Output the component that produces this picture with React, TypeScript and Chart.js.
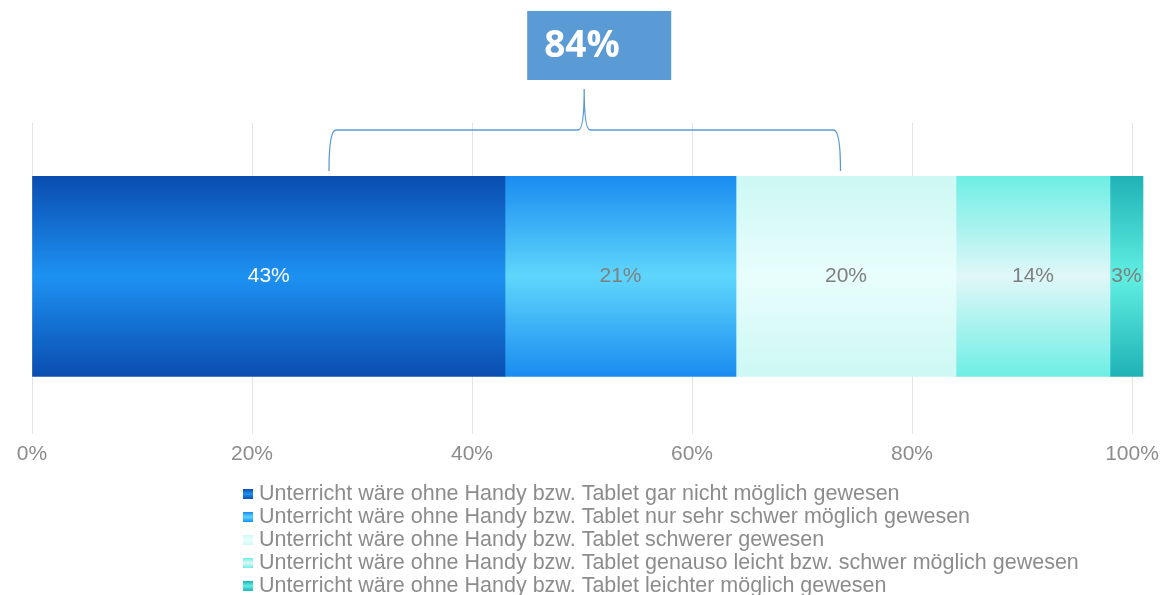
import React, { useEffect, useRef } from "react";
import { Chart, registerables } from "chart.js";

Chart.register(...registerables);

const categories = ["Unterricht"];
const seriesLabels = [
  "Unterricht wäre ohne Handy bzw. Tablet gar nicht möglich gewesen",
  "Unterricht wäre ohne Handy bzw. Tablet nur sehr schwer möglich gewesen",
  "Unterricht wäre ohne Handy bzw. Tablet schwerer gewesen",
  "Unterricht wäre ohne Handy bzw. Tablet genauso leicht bzw. schwer möglich gewesen",
  "Unterricht wäre ohne Handy bzw. Tablet leichter möglich gewesen",
];
const seriesValues = [43, 21, 20, 14, 3];
const xTicks = [0, 20, 40, 60, 80, 100];
const bracketFrom = 27;
const bracketTo = 73.5;
const bracketPeak = 50.2;
const bracketLabel = "84%";

const edgeColors = ["#0a4db0", "#1a8cf0", "#cdf8f3", "#6eeee4", "#1fb2b6"];
const centerColors = ["#1d92f2", "#5fd6fc", "#e8fefd", "#e0f7f8", "#60efe2"];
const labelColors = ["#ffffff", "#7f7f7f", "#7f7f7f", "#7f7f7f", "#7f7f7f"];

const BAR_THICK = 200;
const GRAY = "#8c8c8c";
const FONT = '"Liberation Sans", Arial, sans-serif';

function makeGradient(ctx: CanvasRenderingContext2D, top: number, bottom: number, i: number) {
  const g = ctx.createLinearGradient(0, top, 0, bottom);
  g.addColorStop(0, edgeColors[i]);
  g.addColorStop(0.5, centerColors[i]);
  g.addColorStop(1, edgeColors[i]);
  return g;
}

const labelPlugin = {
  id: "segLabels",
  afterDatasetsDraw(chart: any) {
    const ctx = chart.ctx;
    ctx.save();
    ctx.font = "21px " + FONT;
    ctx.textAlign = "center";
    ctx.textBaseline = "middle";
    chart.data.datasets.forEach((ds: any, i: number) => {
      const meta = chart.getDatasetMeta(i);
      const el = meta.data[0];
      if (!el) return;
      const cx = (el.x + el.base) / 2;
      ctx.fillStyle = labelColors[i];
      ctx.fillText(ds.data[0] + "%", cx, el.y);
    });
    ctx.restore();
  },
};

const bracketPlugin = {
  id: "bracket",
  afterDraw(chart: any) {
    const ctx = chart.ctx;
    const x = chart.scales.x;
    const x1 = x.getPixelForValue(bracketFrom);
    const x2 = x.getPixelForValue(bracketTo);
    const xp = x.getPixelForValue(bracketPeak);
    const yLine = 130;
    const yEnd = 171;
    const yTop = 89;
    ctx.save();
    ctx.strokeStyle = "#5b9bd5";
    ctx.lineWidth = 1.3;
    ctx.beginPath();
    ctx.moveTo(x1, yEnd);
    ctx.quadraticCurveTo(x1, yLine, x1 + 7, yLine);
    ctx.lineTo(xp - 6, yLine);
    ctx.quadraticCurveTo(xp, yLine, xp, yTop);
    ctx.quadraticCurveTo(xp, yLine, xp + 6, yLine);
    ctx.lineTo(x2 - 7, yLine);
    ctx.quadraticCurveTo(x2, yLine, x2, yEnd);
    ctx.stroke();
    const bx = xp - 57;
    ctx.fillStyle = "#5b9bd5";
    ctx.fillRect(bx, 11, 144, 69);
    ctx.fillStyle = "#ffffff";
    ctx.font = 'bold 37px "Open Sans", sans-serif';
    ctx.textAlign = "left";
    ctx.textBaseline = "middle";
    ctx.fillText(bracketLabel, bx + 17, 46);
    ctx.restore();
  },
};

const legendPlugin = {
  id: "customLegend",
  afterDraw(chart: any) {
    const ctx = chart.ctx;
    ctx.save();
    ctx.font = "21.5px " + FONT;
    ctx.textAlign = "left";
    ctx.textBaseline = "middle";
    chart.data.datasets.forEach((ds: any, i: number) => {
      const y = 494 + i * 23;
      ctx.fillStyle = makeGradient(ctx, y - 5, y + 5, i);
      ctx.fillRect(243, y - 5, 10, 10);
      ctx.fillStyle = GRAY;
      ctx.fillText(ds.label, 259, y);
    });
    ctx.restore();
  },
};

export default function App() {
  const ref = useRef<HTMLCanvasElement | null>(null);
  useEffect(() => {
    if (!ref.current) return;
    const chart = new Chart(ref.current, {
      type: "bar",
      data: {
        labels: categories,
        datasets: seriesValues.map((v, i) => ({
          label: seriesLabels[i],
          data: [v],
          clip: false as any,
          barThickness: BAR_THICK,
          borderWidth: 0,
          backgroundColor: (c: any) => {
            const area = c.chart.chartArea;
            if (!area) return edgeColors[i];
            const mid = (area.top + area.bottom) / 2;
            return makeGradient(c.chart.ctx, mid - BAR_THICK / 2, mid + BAR_THICK / 2, i);
          },
        })),
      },
      options: {
        indexAxis: "y",
        animation: false,
        responsive: true,
        maintainAspectRatio: false,
        layout: { padding: { top: 123, left: 32, right: 36, bottom: 120 } },
        plugins: {
          legend: { display: false },
          tooltip: { enabled: false },
        },
        scales: {
          x: {
            stacked: true,
            min: 0,
            max: 100,
            afterBuildTicks: (s: any) => {
              s.ticks = xTicks.map((v) => ({ value: v }));
            },
            grid: { color: "#e3e3e3", drawTicks: true, tickLength: 4 },
            border: { display: false },
            ticks: {
              padding: 8,
              color: GRAY,
              font: { family: FONT, size: 21 },
              callback: (v: any) => v + "%",
            },
          },
          y: { stacked: true, display: false },
        },
      },
      plugins: [labelPlugin, bracketPlugin, legendPlugin],
    });
    return () => chart.destroy();
  }, []);
  return (
    <div style={{ position: "fixed", left: 0, top: 0, width: 1168, height: 595, background: "#fff" }}>
      <canvas ref={ref} />
    </div>
  );
}
